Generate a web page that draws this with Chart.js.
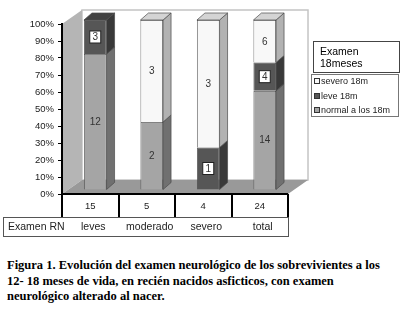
<!DOCTYPE html>
<html>
<head>
<meta charset="utf-8">
<script src="https://cdn.jsdelivr.net/npm/chart.js@4/dist/chart.umd.min.js"></script>
<style>
  html, body { margin: 0; padding: 0; background: #fff; width: 400px; height: 322px; overflow: hidden; }
  #wrap { position: relative; width: 400px; height: 322px; }
  #c { position: absolute; left: 0; top: 0; }
  #caption {
    position: absolute; left: 7px; top: 258px; width: 392px;
    font: bold 12.5px "Liberation Serif", "Times New Roman", serif;
    line-height: 15.5px; color: #000;
  }
</style>
</head>
<body>
<div id="wrap">
  <canvas id="c" width="400" height="245"></canvas>
  <div id="caption">Figura 1. Evolución del examen neurológico de los sobrevivientes a los<br>12- 18 meses de vida, en recién nacidos asficticos, con examen<br>neurológico alterado al nacer.</div>
</div>
<script>
  // data
  const categories = ['leves', 'moderado', 'severo', 'total'];
  const rnTotals = ['15', '5', '4', '24'];
  const normal18 = [12, 2, 0, 14];
  const leve18 = [3, 0, 1, 4];
  const severo18 = [0, 3, 3, 6];
  const yTicks = [0, 10, 20, 30, 40, 50, 60, 70, 80, 90, 100];

  const seriesNames = ['normal a los 18m', 'leve 18m', 'severo 18m'];
  const counts = [normal18, leve18, severo18];

  const fronts = ['#a5a5a5', '#565656', '#f8f8f8'];
  const sides = ['#707070', '#393939', '#b2b2b2'];
  const tops = ['#c2c2c2', '#424242', '#d4d4d4'];

  const FONT = '"Liberation Sans", Arial, sans-serif';
  const SHIFT = { x: 5, y: -4 };       // bars sit a little behind the front plane
  const BAR_DEPTH = { x: 8, y: -7 };
  const WALL_DEPTH = { x: 20, y: -14 };

  function pct(series, i) {
    const tot = normal18[i] + leve18[i] + severo18[i];
    return series[i] / tot * 100;
  }

  function poly(ctx, pts, fill, stroke) {
    ctx.beginPath();
    ctx.moveTo(pts[0][0], pts[0][1]);
    for (let k = 1; k < pts.length; k++) ctx.lineTo(pts[k][0], pts[k][1]);
    ctx.closePath();
    ctx.fillStyle = fill;
    ctx.fill();
    if (stroke) {
      ctx.strokeStyle = stroke;
      ctx.lineWidth = 0.7;
      ctx.stroke();
    }
  }

  const depth3d = {
    id: 'depth3d',
    beforeDraw(chart) {
      const { ctx, chartArea: a } = chart;
      const dx = WALL_DEPTH.x, dy = WALL_DEPTH.y;
      ctx.save();
      // back wall
      ctx.fillStyle = '#fff';
      ctx.fillRect(a.left + dx, a.top + dy, a.width, a.height);
      ctx.strokeStyle = '#c4c4c4';
      ctx.lineWidth = 1.5;
      ctx.strokeRect(a.left + dx, a.top + dy, a.width, a.height);
      // left wall
      poly(ctx, [[a.left, a.top], [a.left + dx, a.top + dy], [a.left + dx, a.bottom + dy], [a.left, a.bottom]], '#b5b5b5');
      // floor
      poly(ctx, [[a.left, a.bottom], [a.right, a.bottom], [a.right + dx, a.bottom + dy], [a.left + dx, a.bottom + dy]], '#999999');
      ctx.restore();
    },
    beforeDatasetsDraw(chart) {
      chart.ctx.save();
      chart.ctx.translate(SHIFT.x, SHIFT.y);
    },
    afterDatasetsDraw(chart) {
      const ctx = chart.ctx;
      const bx = BAR_DEPTH.x, by = BAR_DEPTH.y;
      for (let i = 0; i < categories.length; i++) {
        let topIdx = -1;
        counts.forEach((s, d) => { if (s[i] > 0) topIdx = d; });
        counts.forEach((s, d) => {
          if (!s[i]) return;
          const bar = chart.getDatasetMeta(d).data[i];
          const { x, y, base, width } = bar.getProps(['x', 'y', 'base', 'width'], true);
          const l = x - width / 2, r = x + width / 2;
          poly(ctx, [[r, y], [r + bx, y + by], [r + bx, base + by], [r, base]], sides[d], '#4a4a4a');
          if (d === topIdx) {
            poly(ctx, [[l, y], [l + bx, y + by], [r + bx, y + by], [r, y]], tops[d], '#4a4a4a');
          }
        });
      }
      // value labels
      ctx.font = '10px ' + FONT;
      ctx.textAlign = 'center';
      ctx.textBaseline = 'middle';
      for (let i = 0; i < categories.length; i++) {
        counts.forEach((s, d) => {
          if (!s[i]) return;
          const bar = chart.getDatasetMeta(d).data[i];
          const { x, y, base } = bar.getProps(['x', 'y', 'base'], true);
          const cy = (y + base) / 2;
          if (d === 1) {
            ctx.fillStyle = '#fff';
            ctx.fillRect(x - 5.5, cy - 6, 11, 12);
            ctx.strokeStyle = '#222';
            ctx.lineWidth = 1;
            ctx.strokeRect(x - 5.5, cy - 6, 11, 12);
          }
          ctx.fillStyle = '#333';
          ctx.fillText(String(s[i]), x, cy + 0.5);
        });
      }
      ctx.restore();
    },
    afterDraw(chart) {
      const { ctx, chartArea: a } = chart;
      const xs = chart.scales.x;
      const n = categories.length;
      const step = a.width / n;
      const row1 = a.bottom, row2 = 217, row3 = 236;
      ctx.save();
      // data table under the axis
      ctx.strokeStyle = '#000';
      ctx.lineWidth = 2;
      ctx.beginPath();
      ctx.moveTo(a.left - 1, row1);
      ctx.lineTo(a.right, row1);
      for (let k = 0; k <= n; k++) {
        const x = Math.round(a.left + k * step);
        ctx.moveTo(x, row1);
        ctx.lineTo(x, row2);
      }
      ctx.stroke();
      ctx.strokeStyle = '#555';
      ctx.lineWidth = 1;
      ctx.strokeRect(3.5, row2 + 0.5, a.right - 3, row3 - row2);

      ctx.fillStyle = '#222';
      ctx.textBaseline = 'middle';
      ctx.textAlign = 'center';
      ctx.font = '9.5px ' + FONT;
      for (let i = 0; i < n; i++) {
        ctx.fillText(rnTotals[i], xs.getPixelForValue(i), (row1 + row2) / 2 + 1);
      }
      ctx.font = '10.5px ' + FONT;
      for (let i = 0; i < n; i++) {
        ctx.fillText(categories[i], xs.getPixelForValue(i) + 3, (row2 + row3) / 2 + 1);
      }
      ctx.textAlign = 'left';
      ctx.fillText('Examen RN', 8, (row2 + row3) / 2 + 1);

      // legend
      ctx.fillStyle = '#fff';
      ctx.fillRect(313.5, 41.5, 86, 31);
      ctx.strokeStyle = '#444';
      ctx.strokeRect(313.5, 41.5, 86, 31);
      ctx.fillStyle = '#000';
      ctx.font = '10.5px ' + FONT;
      ctx.fillText('Examen', 320, 52);
      ctx.fillText('18meses', 320, 64);

      ctx.fillStyle = '#fff';
      ctx.fillRect(311.5, 74.5, 87, 42);
      ctx.strokeStyle = '#777';
      ctx.strokeRect(311.5, 74.5, 87, 42);
      ctx.font = '9px ' + FONT;
      const itemY = [81, 96, 110];
      for (let k = 0; k < 3; k++) {
        const d = 2 - k;
        ctx.fillStyle = fronts[d];
        ctx.fillRect(314.5, itemY[k] - 2.5, 5, 5);
        ctx.strokeStyle = '#333';
        ctx.strokeRect(314.5, itemY[k] - 2.5, 5, 5);
        ctx.fillStyle = '#222';
        ctx.fillText(seriesNames[d], 321, itemY[k] + 0.5);
      }
      ctx.restore();
    }
  };

  new Chart(document.getElementById('c'), {
    type: 'bar',
    data: {
      labels: categories,
      datasets: counts.map((s, d) => ({
        label: seriesNames[d],
        data: s.map((v, i) => pct(s, i)),
        backgroundColor: fronts[d],
        borderColor: '#4a4a4a',
        borderWidth: 0.8,
        barPercentage: 0.4,
        categoryPercentage: 1
      }))
    },
    options: {
      responsive: false,
      animation: false,
      devicePixelRatio: 1,
      layout: { padding: { top: 24, right: 112, bottom: 51, left: 0 } },
      plugins: {
        legend: { display: false },
        tooltip: { enabled: false }
      },
      scales: {
        x: {
          stacked: true,
          display: false
        },
        y: {
          stacked: true,
          min: 0,
          max: 100,
          afterBuildTicks: s => { s.ticks = yTicks.map(v => ({ value: v })); },
          afterFit: s => { s.width = 62; },
          ticks: {
            callback: v => v + '%',
            color: '#222',
            padding: 4,
            font: { family: FONT, size: 9.5 }
          },
          grid: { drawOnChartArea: false, drawTicks: true, tickLength: 4, color: '#000' },
          border: { display: true, color: '#000', width: 2 }
        }
      }
    },
    plugins: [depth3d]
  });
</script>
</body>
</html>
